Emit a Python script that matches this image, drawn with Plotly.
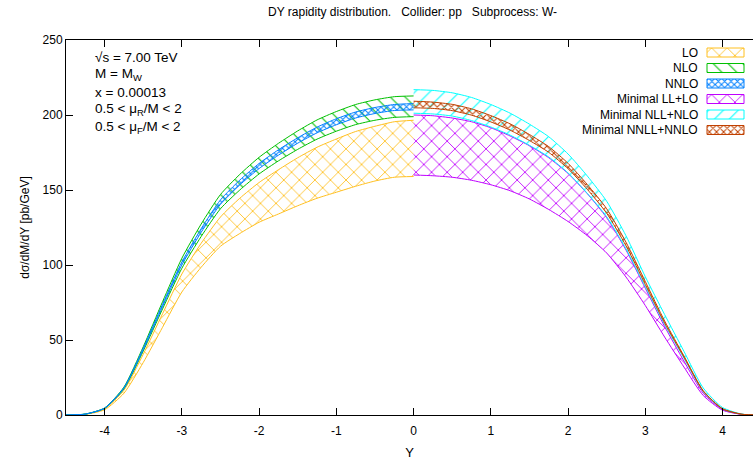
import plotly.graph_objects as go

# ---------------- data ----------------
Y_LEFT = [-4.5, -4.25, -4.0, -3.75, -3.5, -3.25, -3.0, -2.75, -2.5, -2.25,
          -2.0, -1.75, -1.5, -1.25, -1.0, -0.75, -0.5, -0.25, 0.0]
Y_RIGHT = [0.0, 0.25, 0.5, 0.75, 1.0, 1.25, 1.5, 1.75, 2.0, 2.25,
           2.5, 2.75, 3.0, 3.25, 3.5, 3.75, 4.0, 4.25, 4.5]

# fixed order bands (Y < 0)
LO_LOW = [0, 0.4, 3.5, 14.5, 35, 58.5, 82, 98.5, 112.5, 121,
          128.5, 134, 139.5, 144.5, 148.5, 152.5, 156, 158.5, 159]
LO_HIGH = [0, 0.5, 4.1, 16.5, 40.5, 67.5, 94, 114.5, 132, 144.5,
           155, 163.5, 171.5, 178.5, 184, 189, 192.5, 195.5, 196.5]
NLO_LOW = [0, 0.6, 4.4, 17.4, 42.6, 70.7, 97.8, 119, 137.5, 150,
           160.7, 169.4, 177.1, 183.9, 189.2, 193.6, 196.5, 198.4, 198.9]
NLO_HIGH = [0, 0.6, 4.7, 18.6, 45.5, 75.5, 104.5, 127.3, 147, 160.4,
            171.8, 181.1, 189.4, 196.7, 202.3, 207, 210.1, 212.2, 212.7]
NNLO_LOW = [0, 0.6, 4.4, 17.8, 43.5, 72.2, 100, 121.8, 140.5, 153.4,
            164.3, 173.2, 181.2, 188.1, 193.5, 198, 201, 203, 203.4]
NNLO_HIGH = [0, 0.6, 4.6, 18.2, 44.5, 73.8, 102, 124.2, 143.4, 156.6,
             167.7, 176.8, 184.8, 191.9, 197.5, 202, 205, 207, 207.6]

# resummed bands (Y > 0)
LL_LOW = [160, 159.5, 158.5, 156.5, 153.5, 149.5, 144, 137, 129, 119.5,
          108, 92, 73, 52, 32, 13, 3.2, 0.4, 0]
LL_HIGH = [200, 199.5, 198, 195.5, 191.5, 186, 179.5, 171.5, 161, 147.5,
           131.5, 110, 84.5, 59, 36, 14.5, 3.6, 0.4, 0]
NLL_LOW = [201.2, 200.7, 199.3, 196.3, 192, 186.6, 179.8, 172, 161.4, 147.7,
           132.2, 110.8, 85.5, 60.3, 37.9, 15.6, 3.9, 0.5, 0]
NLL_HIGH = [216.9, 216.4, 214.8, 211.7, 207, 201.2, 193.9, 185.5, 174, 159.3,
            142.5, 119.5, 92.2, 67, 42.5, 18, 5, 0.6, 0]
NNLL_LOW = [204.8, 204.4, 202.9, 199.9, 195.4, 189.9, 183, 175.1, 164.2, 150.4,
            134.5, 112.8, 87, 61.3, 38.6, 15.8, 4, 0.5, 0]
NNLL_HIGH = [209.2, 208.6, 207.1, 204.1, 199.6, 194.1, 187, 178.9, 167.8, 153.6,
             137.5, 115.2, 89, 62.7, 39.4, 16.2, 4.2, 0.5, 0]

SERIES_NAMES = ["LO", "NLO", "NNLO", "Minimal LL+LO", "Minimal NLL+NLO", "Minimal NNLL+NNLO"]

X_TICKS = [-4, -3, -2, -1, 0, 1, 2, 3, 4]
X_TICK_LABELS = ["-4", "-3", "-2", "-1", "0", "1", "2", "3", "4"]
Y_TICKS = [0, 50, 100, 150, 200, 250]
Y_TICK_LABELS = ["0", "50", "100", "150", "200", "250"]

INFO_LINES = ["\u221as = 7.00 TeV", "M = M<sub>W</sub>", "x = 0.00013",
              "0.5 < \u03bc<sub>R</sub>/M < 2", "0.5 < \u03bc<sub>F</sub>/M < 2"]
TITLE = "DY rapidity distribution.\u00a0\u00a0 Collider: pp\u00a0\u00a0 Subprocess: W-"

# ---------------- layout / styles ----------------
W, H = 753, 460
ML, MT, MB = 66, 40, 45
PLOT_W, PLOT_H = W - ML, H - MT - MB
X_MIN = -4.5
PX_PER_UNIT_X = 77.24
X_MAX = X_MIN + PLOT_W / PX_PER_UNIT_X
Y_MIN, Y_MAX = 0, 250
FONT = "Liberation Sans, Arial, Helvetica, sans-serif"


def px_to_paper_x(px):
    return (px - ML) / PLOT_W


def py_to_paper_y(py):
    return (H - MB - py) / PLOT_H


def px_to_data_x(px):
    return X_MIN + (px - ML) / PX_PER_UNIT_X


def py_to_data_y(py):
    return Y_MIN + (H - MB - py) / PLOT_H * (Y_MAX - Y_MIN)


STYLES = [
    dict(color="#ffc020", shape="x", size=11, solidity=0.15),
    dict(color="#00c000", shape="\\", size=10.5, solidity=0.1),
    dict(color="#0080ff", shape="x", size=4.5, solidity=0.4),
    dict(color="#c000ff", shape="x", size=11, solidity=0.15),
    dict(color="#00ffff", shape="/", size=10.5, solidity=0.1),
    dict(color="#c04000", shape="x", size=5, solidity=0.36),
]

bands = [
    (Y_LEFT, LO_LOW, LO_HIGH),
    (Y_LEFT, NLO_LOW, NLO_HIGH),
    (Y_LEFT, NNLO_LOW, NNLO_HIGH),
    (Y_RIGHT, LL_LOW, LL_HIGH),
    (Y_RIGHT, NLL_LOW, NLL_HIGH),
    (Y_RIGHT, NNLL_LOW, NNLL_HIGH),
]


def pattern(st):
    return dict(shape=st["shape"], size=st["size"], solidity=st["solidity"],
                fgcolor=st["color"], bgcolor="rgba(0,0,0,0)", fillmode="replace")


fig = go.Figure()

for (xs, lo, hi), st, name in zip(bands, STYLES, SERIES_NAMES):
    fig.add_trace(go.Scatter(x=xs, y=lo, mode="lines", name=name + " low",
                             line=dict(color=st["color"], width=1, shape="spline", smoothing=0.6),
                             showlegend=False, hoverinfo="skip"))
    fig.add_trace(go.Scatter(x=xs, y=hi, mode="lines", name=name,
                             line=dict(color=st["color"], width=1, shape="spline", smoothing=0.6),
                             fill="tonexty", fillcolor="rgba(0,0,0,0)",
                             fillpattern=pattern(st),
                             showlegend=False, hoverinfo="skip"))

# ------------- gnuplot-like key (text left, sample box right) -------------
KEY_TEXT_X = 700
KEY_BOX_X0, KEY_BOX_X1 = 707, 744
KEY_Y0, KEY_DY, KEY_BOX_H = 52.5, 15.5, 9

annotations = []
for i, (name, st) in enumerate(zip(SERIES_NAMES, STYLES)):
    yc = KEY_Y0 + i * KEY_DY
    bx0, bx1 = px_to_data_x(KEY_BOX_X0), px_to_data_x(KEY_BOX_X1)
    by0, by1 = py_to_data_y(yc + KEY_BOX_H / 2), py_to_data_y(yc - KEY_BOX_H / 2)
    fig.add_trace(go.Scatter(
        x=[bx0, bx1, bx1, bx0, bx0], y=[by0, by0, by1, by1, by0], mode="lines",
        line=dict(color=st["color"], width=1), fill="toself",
        fillcolor="rgba(0,0,0,0)", fillpattern=pattern(st), name=name + " key",
        showlegend=False, hoverinfo="skip"))
    annotations.append(dict(x=px_to_paper_x(KEY_TEXT_X), y=py_to_paper_y(yc),
                            xref="paper", yref="paper", text=name,
                            showarrow=False, xanchor="right", yanchor="middle",
                            font=dict(size=12, family=FONT, color="black")))

INFO_X, INFO_Y0, INFO_DY = 93, 57, 17.6
for i, t in enumerate(INFO_LINES):
    annotations.append(dict(x=px_to_paper_x(INFO_X), y=py_to_paper_y(INFO_Y0 + i * INFO_DY),
                            xref="paper", yref="paper",
                            text=t, showarrow=False, xanchor="left", yanchor="middle",
                            font=dict(size=13.5, family=FONT, color="black")))

annotations.append(dict(x=px_to_paper_x(412), y=py_to_paper_y(12), xref="paper", yref="paper",
                        text=TITLE, showarrow=False, xanchor="center", yanchor="middle",
                        font=dict(size=12, family=FONT, color="black")))

fig.update_layout(
    width=W, height=H,
    margin=dict(l=ML, r=0, t=MT, b=MB, pad=0),
    paper_bgcolor="white", plot_bgcolor="white",
    font=dict(family=FONT, size=12, color="black"),
    showlegend=False,
    annotations=annotations,
    xaxis=dict(range=[X_MIN, X_MAX], tickvals=X_TICKS, ticktext=X_TICK_LABELS,
               showline=True, linecolor="black", linewidth=1, mirror="ticks",
               ticks="inside", ticklen=7, tickcolor="black", tickwidth=1,
               showgrid=False, zeroline=False, ticklabelstandoff=5,
               title=dict(text="Y", standoff=11, font=dict(size=13, family=FONT)),
               tickfont=dict(size=12, family=FONT)),
    yaxis=dict(range=[Y_MIN, Y_MAX], tickvals=Y_TICKS, ticktext=Y_TICK_LABELS,
               showline=True, linecolor="black", linewidth=1,
               ticks="inside", ticklen=7, tickcolor="black", tickwidth=1,
               showgrid=False, zeroline=False,
               title=dict(text="d\u03c3/dM/dY [pb/GeV]", standoff=10,
                          font=dict(size=12, family=FONT)),
               tickfont=dict(size=12, family=FONT)),
)

fig.write_html("out.html")
